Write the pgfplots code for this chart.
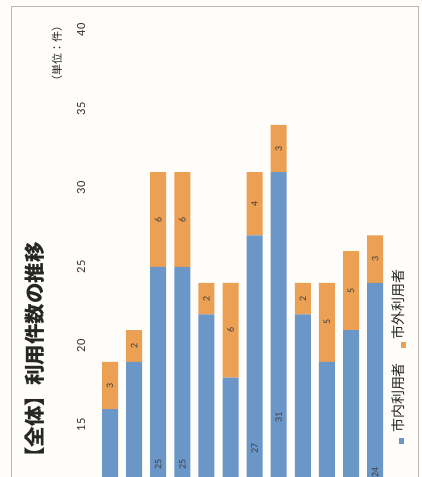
\documentclass[border=0pt]{standalone}
\usepackage{fontspec}
\setmainfont{Carlito}
\newfontfamily\jp{Noto Sans CJK JP}
\usepackage{pgfplots}
\usepackage{pgfplotstable}
\pgfplotsset{compat=1.18}

\definecolor{innerblue}{RGB}{106,150,200}
\definecolor{outerorange}{RGB}{236,160,84}
\definecolor{paper}{RGB}{254,253,249}

% bar index, users living in the city, users from outside the city
\pgfplotstableread{
idx inner outer
1  16 3
2  19 2
3  25 6
4  25 6
5  22 2
6  18 6
7  27 4
8  31 3
9  22 2
10 19 5
11 21 5
12 24 3
}\usage

\begin{document}
\begin{tikzpicture}[x=1pt,y=1pt]
\useasboundingbox (0,0) rectangle (422,477);
\fill[paper] (0,0) rectangle (422,477);
\clip (0,0) rectangle (422,477);
\draw[black!28, line width=0.6pt] (11,-5) -- (11,471) -- (418,471) -- (418,-5);
\begin{axis}[
  at={(93.13pt,-185pt)}, anchor=south west,
  x=24.1pt, y=15.8pt,
  xmin=0.3, xmax=12.7, ymin=0, ymax=40,
  ybar stacked, bar width=16pt,
  axis line style={draw=none},
  xtick=\empty,
  ytick={15,20,25,30,35,40},
  major tick length=0pt,
  clip=false,
  /pgf/number format/assume math mode=true,
  yticklabel style={xshift=-12.1pt, rotate=90, anchor=center,
    font=\fontsize{12.5}{14}\selectfont, text=black!80},
  % segment values, written in the middle of each segment
  visualization depends on=rawy\as\segval,
  nodes near coords align=center,
  every node near coord/.append style={rotate=90, anchor=center,
    font=\fontsize{10}{12}\selectfont, text=black!75},
]
% the lower part of the value range lies below the visible area,
% so labels whose middle falls there are left out
\addplot[fill=innerblue, draw=none,
  nodes near coords={\pgfmathparse{\segval>23}%
    \ifdim\pgfmathresult pt>0.5pt \pgfmathprintnumber{\segval}\fi}]
  table[x=idx, y=inner] {\usage};
\addplot[fill=outerorange, draw=none,
  nodes near coords={\pgfmathprintnumber{\segval}}]
  table[x=idx, y=outer] {\usage};
\end{axis}
% title, unit and legend, set sideways like the chart
\node[rotate=90, text=black!85, font=\jp\bfseries\fontsize{20.5}{24}\selectfont] at (35,122) {【全体】利用件数の推移};
\node[rotate=90, text=black!85, font=\jp\fontsize{11}{13}\selectfont] at (57,423) {（単位：件）};
\fill[innerblue] (398.5,33) rectangle (403.5,39);
\node[rotate=90, text=black!85, font=\jp\fontsize{14}{16}\selectfont] at (398,79) {市内利用者};
\fill[outerorange] (400.5,129) rectangle (405.5,135);
\node[rotate=90, text=black!85, font=\jp\fontsize{14}{16}\selectfont] at (398,172) {市外利用者};
\end{tikzpicture}
\end{document}
